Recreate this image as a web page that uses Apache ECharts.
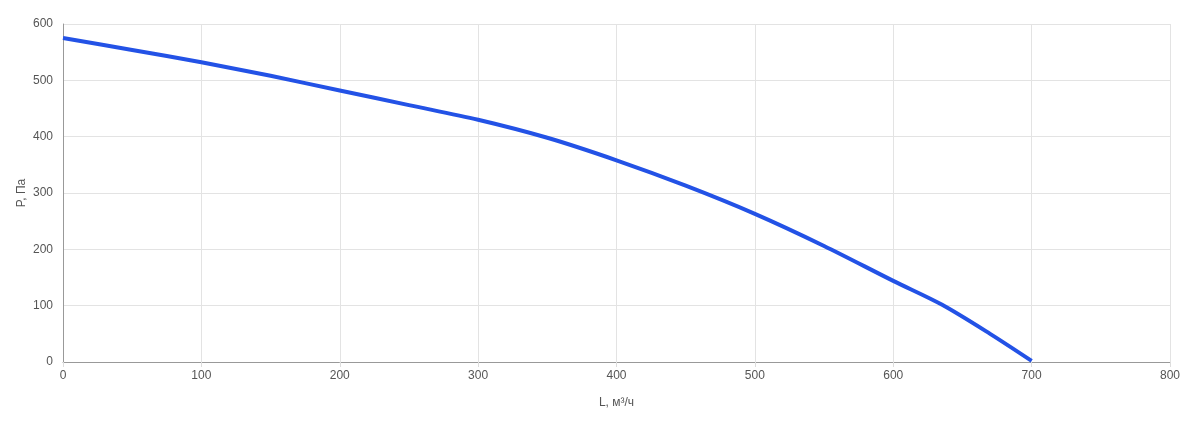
<!DOCTYPE html>
<html><head><meta charset="utf-8">
<script src="https://cdn.jsdelivr.net/npm/echarts@6/dist/echarts.min.js"></script>
<style>html,body{margin:0;padding:0;background:#fff}#c{width:1200px;height:424px}</style>
</head><body><div id="c"></div>
<script>
const flowL = [0, 50, 100, 150, 200, 250, 300, 350, 400, 450, 500, 550, 600, 635, 670, 700];
const pressureP = [575, 554, 532, 508, 482, 456, 430, 398, 358, 313, 263, 206, 144, 102, 50, 2];
const xTicks = [0, 800, 100];
const yTicks = [0, 600, 100];

const FONT = '"Liberation Sans", Arial, sans-serif';
const data = flowL.map((x, i) => [x, pressureP[i]]);
const chart = echarts.init(document.getElementById('c'), null, {renderer: 'canvas'});
chart.setOption({
  animation: false,
  grid: {left: 63, right: 30, top: 24, bottom: 62},
  xAxis: {
    type: 'value', min: xTicks[0], max: xTicks[1], interval: xTicks[2],
    name: 'L, м³/ч', nameLocation: 'middle', nameGap: 35,
    nameTextStyle: {color: '#555', fontSize: 12, fontFamily: FONT},
    axisLine: {show: true, lineStyle: {color: '#999'}},
    axisTick: {show: true, length: 5, lineStyle: {color: '#ddd'}},
    axisLabel: {color: '#555', fontSize: 12, fontFamily: FONT, margin: 8},
    splitLine: {show: true, lineStyle: {color: '#e3e3e3'}}
  },
  yAxis: {
    type: 'value', min: yTicks[0], max: yTicks[1], interval: yTicks[2],
    name: 'P, Па', nameLocation: 'middle', nameGap: 35, nameMoveOverlap: false,
    nameTextStyle: {color: '#555', fontSize: 12, fontFamily: FONT},
    axisLine: {show: true, lineStyle: {color: '#999'}},
    axisTick: {show: false},
    axisLabel: {color: '#555', fontSize: 12, fontFamily: FONT, margin: 10},
    splitLine: {show: true, lineStyle: {color: '#e3e3e3'}}
  },
  series: [{
    type: 'line', data: data, smooth: 0.3, showSymbol: false,
    lineStyle: {color: '#2352e6', width: 4}
  }]
});
</script></body></html>
